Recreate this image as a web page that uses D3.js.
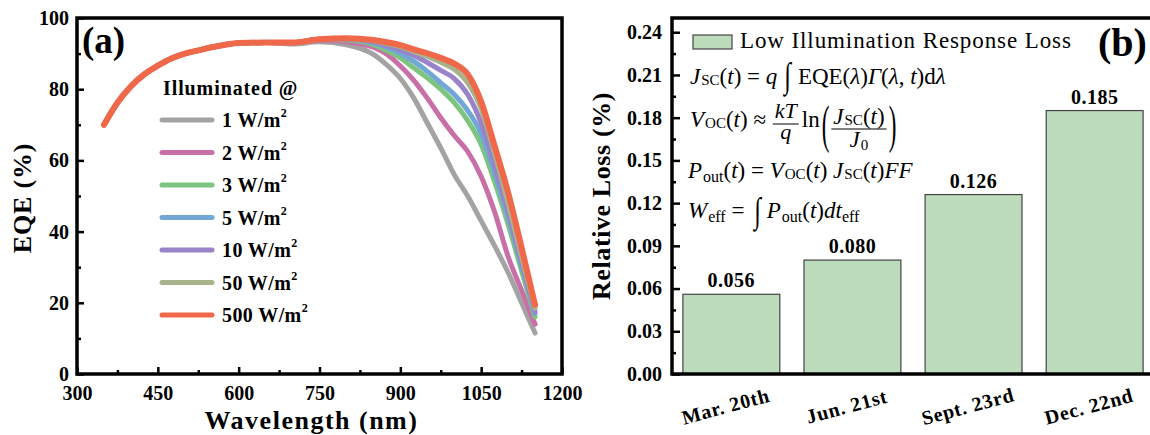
<!DOCTYPE html>
<html>
<head>
<meta charset="utf-8">
<script src="https://cdn.jsdelivr.net/npm/d3@7"></script>
<style>
  body { margin: 0; background: #fff; }
  svg { display: block; }
  text { font-family: "Liberation Serif", "Times New Roman", serif; fill: #000; white-space: pre; }
</style>
</head>
<body>
<svg id="chart" width="1150" height="435"></svg>
<script>
// ---------- Panel (a): EQE spectra under different irradiance ----------
const wavelengths = [350, 375, 400, 425, 450, 475, 500, 525, 550, 575, 600, 650, 700, 750,
                     800, 850, 875, 900, 925, 950, 975, 1000, 1025, 1050, 1075, 1100, 1125, 1150];

const eqe1W   = [70, 76.2, 80.8, 84.2, 86.6, 88.6, 90, 90.9, 91.8, 92.5, 93, 93.1, 92.7, 93.3,
                 92.5, 89.8, 86.8, 83, 77.5, 70.5, 63.5, 56, 50, 43, 36, 28.5, 20, 11.5];
const eqe2W   = [70, 76.2, 80.8, 84.2, 86.6, 88.6, 90, 90.9, 91.8, 92.5, 93, 93.1, 93, 93.8,
                 93.3, 91.8, 89.8, 86.5, 82.5, 77.5, 72, 67, 62.5, 55.5, 45.5, 33, 23.5, 14];
const eqe3W   = [70, 76.2, 80.8, 84.2, 86.6, 88.6, 90, 90.9, 91.8, 92.5, 93, 93.1, 93.1, 94,
                 93.8, 92.5, 90.8, 88.8, 86, 83.2, 80, 76.2, 71.2, 64.5, 54, 42, 29, 16];
const eqe5W   = [70, 76.2, 80.8, 84.2, 86.6, 88.6, 90, 90.9, 91.8, 92.5, 93, 93.1, 93.1, 94,
                 94, 93, 91.7, 90, 87.8, 85, 81.8, 78.5, 74, 67.5, 56.5, 44, 30.5, 17];
const eqe10W  = [70, 76.2, 80.8, 84.2, 86.6, 88.6, 90, 90.9, 91.8, 92.5, 93, 93.1, 93.1, 94,
                 94, 93.3, 92.2, 91, 89.5, 87.5, 85.3, 83, 78.5, 70.5, 58.5, 45.5, 31.5, 17.5];
const eqe50W  = [70, 76.2, 80.8, 84.2, 86.6, 88.6, 90, 90.9, 91.8, 92.5, 93, 93.1, 93.1, 94,
                 94.2, 93.6, 92.8, 92, 90.6, 89.2, 87.6, 85.6, 81.8, 74.5, 62, 48, 33, 18.5];
const eqe500W = [70, 76.2, 80.8, 84.2, 86.6, 88.6, 90, 90.9, 91.8, 92.5, 93, 93.1, 93.1, 94,
                 94.3, 93.8, 93.2, 92.4, 91.2, 90.1, 88.8, 87.2, 84.2, 76.5, 64, 51, 35.5, 19.4];

const irradianceLevels = ["1", "2", "3", "5", "10", "50", "500"];
const eqeSeries = [eqe1W, eqe2W, eqe3W, eqe5W, eqe10W, eqe50W, eqe500W];
const seriesColors = ["#a3a3a3", "#c96fa7", "#7cc47f", "#70a7d6", "#9a84c9", "#a9b38b", "#f0684a"];

const wavelengthTicks = [300, 450, 600, 750, 900, 1050, 1200];
const wavelengthMinor = [375, 525, 675, 825, 975, 1125];
const eqeTicks = [0, 20, 40, 60, 80, 100];
const eqeMinor = [10, 30, 50, 70, 90];

// ---------- Panel (b): relative loss by date ----------
const dates = ["Mar. 20th", "Jun. 21st", "Sept. 23rd", "Dec. 22nd"];
const relativeLoss = [0.056, 0.080, 0.126, 0.185];
const lossTicks = [0, 0.03, 0.06, 0.09, 0.12, 0.15, 0.18, 0.21, 0.24];
const lossMinor = [0.015, 0.045, 0.075, 0.105, 0.135, 0.165, 0.195, 0.225];

const svg = d3.select("#chart");
const barFill = "#bcdcbc";

function styleTicks(g, width) {
  g.select(".domain").remove();
  g.selectAll(".tick line").attr("stroke", "#000").attr("stroke-width", width);
}
function styleLabels(sel) {
  sel.attr("font-size", 20).attr("font-weight", "bold").attr("font-family", "Liberation Serif");
}

// ================= Panel (a) =================
{
  const L = 77, R = 562, T = 18, B = 374;
  const x = d3.scaleLinear().domain([300, 1200]).range([L, R]);
  const y = d3.scaleLinear().domain([0, 100]).range([B, T]);
  const g = svg.append("g");

  // curves
  const line = d3.line().x((d, i) => x(wavelengths[i])).y(d => y(d)).curve(d3.curveMonotoneX);
  eqeSeries.forEach((s, k) => {
    g.append("path").datum(s)
      .attr("d", line)
      .attr("fill", "none")
      .attr("stroke", seriesColors[k])
      .attr("stroke-width", k === 6 ? 6 : 5)
      .attr("stroke-linecap", "round")
      .attr("stroke-linejoin", "round");
  });

  // axes
  g.append("g").attr("transform", `translate(0,${B})`)
    .call(d3.axisBottom(x).tickValues(wavelengthTicks).tickSize(-7).tickPadding(12).tickFormat(d3.format("d")))
    .call(a => styleTicks(a, 2.5))
    .selectAll("text").call(styleLabels);
  g.append("g").attr("transform", `translate(0,${B})`)
    .call(d3.axisBottom(x).tickValues(wavelengthMinor).tickSize(-4).tickFormat(""))
    .call(a => styleTicks(a, 2.5));
  g.append("g").attr("transform", `translate(${L},0)`)
    .call(d3.axisLeft(y).tickValues(eqeTicks).tickSize(-7).tickPadding(8).tickFormat(d3.format("d")))
    .call(a => styleTicks(a, 2.5))
    .selectAll("text").call(styleLabels);
  g.append("g").attr("transform", `translate(${L},0)`)
    .call(d3.axisLeft(y).tickValues(eqeMinor).tickSize(-4).tickFormat(""))
    .call(a => styleTicks(a, 2.5));

  g.append("rect").attr("x", L).attr("y", T).attr("width", R - L).attr("height", B - T)
    .attr("fill", "none").attr("stroke", "#000").attr("stroke-width", 3.5);

  // titles
  g.append("text").attr("x", (L + R) / 2 - 8).attr("y", 429).attr("text-anchor", "middle")
    .attr("font-size", 26).attr("font-weight", "bold").attr("letter-spacing", 1.5).text("Wavelength (nm)");
  g.append("text").attr("transform", `translate(31,${(T + B) / 2 + 2}) rotate(-90)`).attr("text-anchor", "middle")
    .attr("font-size", 26).attr("font-weight", "bold").attr("letter-spacing", 0.8).text("EQE (%)");
  g.append("text").attr("x", 82).attr("y", 53).attr("font-size", 37).attr("font-weight", "bold").text("(a)");

  // legend
  g.append("text").attr("x", 163).attr("y", 95).attr("font-size", 20).attr("font-weight", "bold")
    .attr("letter-spacing", 0.9).text("Illuminated @");
  irradianceLevels.forEach((lv, k) => {
    const ly = 120 + k * 32.5;
    g.append("line").attr("x1", 162).attr("x2", 212).attr("y1", ly).attr("y2", ly)
      .attr("stroke", seriesColors[k]).attr("stroke-width", 5).attr("stroke-linecap", "round");
    const t = g.append("text").attr("x", 222).attr("y", ly + 7).attr("font-size", 20).attr("font-weight", "bold")
      .attr("letter-spacing", 0.4);
    t.append("tspan").text(`${lv} W/m`);
    t.append("tspan").attr("font-size", 12).attr("dy", -10).text("2");
  });
}

// ================= Panel (b) =================
{
  const L = 672, R = 1154, T = 18, B = 374;
  const x = d3.scaleBand().domain(dates).range([L, R]).paddingInner(0.2).paddingOuter(0.09);
  const y = d3.scaleLinear().domain([0, 0.25]).range([B, T]);
  const g = svg.append("g");

  g.selectAll(".bar").data(relativeLoss).join("rect")
    .attr("x", (d, i) => x(dates[i]))
    .attr("y", d => y(d))
    .attr("width", x.bandwidth())
    .attr("height", d => B - y(d))
    .attr("fill", barFill).attr("stroke", "#444").attr("stroke-width", 1.2);

  g.selectAll(".val").data(relativeLoss).join("text")
    .attr("x", (d, i) => x(dates[i]) + x.bandwidth() / 2)
    .attr("y", d => y(d) - 7)
    .attr("text-anchor", "middle").attr("font-size", 20).attr("font-weight", "bold").attr("letter-spacing", 0.5)
    .text(d => d3.format(".3f")(d));

  g.append("g").attr("transform", `translate(${L},0)`)
    .call(d3.axisLeft(y).tickValues(lossTicks).tickSize(-8).tickPadding(10).tickFormat(d3.format(".2f")))
    .call(a => styleTicks(a, 2.5))
    .selectAll("text").call(styleLabels);
  g.append("g").attr("transform", `translate(${L},0)`)
    .call(d3.axisLeft(y).tickValues(lossMinor).tickSize(-4).tickFormat(""))
    .call(a => styleTicks(a, 2.5));

  g.append("rect").attr("x", L).attr("y", T).attr("width", R - L).attr("height", B - T)
    .attr("fill", "none").attr("stroke", "#000").attr("stroke-width", 3.5);

  // category labels
  dates.forEach(d => {
    g.append("text")
      .attr("transform", `translate(${x(d) + x.bandwidth() / 2 - 4},${413}) rotate(-15)`)
      .attr("text-anchor", "middle").attr("font-size", 20).attr("font-weight", "bold")
      .attr("letter-spacing", 0.7).text(d);
  });

  g.append("text").attr("transform", `translate(610,${(T + B) / 2}) rotate(-90)`).attr("text-anchor", "middle")
    .attr("font-size", 26).attr("font-weight", "bold").attr("letter-spacing", 0.6).text("Relative Loss (%)");

  g.append("text").attr("x", 1098).attr("y", 56).attr("font-size", 40).attr("font-weight", "bold").text("(b)");

  // legend
  g.append("rect").attr("x", 693).attr("y", 35).attr("width", 39).attr("height", 14)
    .attr("fill", barFill).attr("stroke", "#444").attr("stroke-width", 1.2);
  g.append("text").attr("x", 740).attr("y", 48).attr("font-size", 23).attr("letter-spacing", 0.9)
    .text("Low Illumination Response Loss");

  // formulas
  const mg = g.append("g");
  const FS = 23;
  function piece(p, cx, y0) {
    const size = p.size || FS;
    const t = mg.append("text")
      .attr("font-size", size)
      .attr("font-style", p.i ? "italic" : "normal");
    if (p.sy) {
      t.attr("transform", `translate(${cx},${y0 + (p.dy || 0)}) scale(${p.sx || 1},${p.sy})`);
    } else {
      t.attr("x", cx).attr("y", y0 + (p.dy || 0));
    }
    t.text(p.t);
    return t.node().getComputedTextLength() * (p.sx || 1) + (p.gap || 0);
  }
  function measure(parts) {
    const tmp = mg.append("g").attr("opacity", 0);
    let w = 0;
    parts.forEach(p => {
      const t = tmp.append("text").attr("font-size", p.size || FS).attr("font-style", p.i ? "italic" : "normal").text(p.t);
      w += t.node().getComputedTextLength() + (p.gap || 0);
    });
    tmp.remove();
    return w;
  }
  // numerator and denominator share one text element, laid out with positioned tspans
  function fraction(f, cx, y0) {
    const wNum = measure(f.num), wDen = measure(f.den);
    const w = Math.max(wNum, wDen) + 4;
    const t = mg.append("text");
    const place = (parts, startX, base) => {
      let px = startX;
      parts.forEach(p => {
        const ts = t.append("tspan").attr("x", px).attr("y", base + (p.dy || 0))
          .attr("font-size", p.size || FS).attr("font-style", p.i ? "italic" : "normal").text(p.t);
        px += ts.node().getComputedTextLength() + (p.gap || 0);
      });
    };
    place(f.num, cx + (w - wNum) / 2, y0 + f.numDy);
    place(f.den, cx + (w - wDen) / 2, y0 + f.denDy);
    mg.append("line").attr("x1", cx).attr("x2", cx + w)
      .attr("y1", y0 + f.barDy).attr("y2", y0 + f.barDy)
      .attr("stroke", "#000").attr("stroke-width", 1);
    return w;
  }
  function run(parts, x0, y0) {
    let cx = x0;
    parts.forEach(p => {
      cx += p.frac ? fraction(p.frac, cx, y0) + (p.gap || 0) : piece(p, cx, y0);
    });
  }

  const Jsc = [{ t: "J", i: true, gap: 1 }, { t: "SC", size: 15, dy: 1 }];
  // J_SC(t) = q ∫ EQE(λ)Γ(λ,t)dλ
  run([...Jsc, { t: "(" }, { t: "t", i: true }, { t: ") = " }, { t: "q", i: true, gap: 7 },
       { t: "∫", size: 22, sx: 1.1, sy: 1.6, dy: 3, gap: 7 },
       { t: "EQE(" }, { t: "λ", i: true }, { t: ")" }, { t: "Γ", i: true }, { t: "(" }, { t: "λ", i: true },
       { t: ", " }, { t: "t", i: true }, { t: ")d" }, { t: "λ", i: true }], 690, 84);

  // V_OC(t) ≈ kT/q ln( J_SC(t) / J_0 )
  run([{ t: "V", i: true, gap: 1 }, { t: "OC", size: 15, dy: 1 }, { t: "(" }, { t: "t", i: true }, { t: ") ≈ ", gap: 1 },
       { frac: { num: [{ t: "kT", i: true, size: 22 }], den: [{ t: "q", i: true, size: 22 }],
                 numDy: -9, denDy: 12, barDy: -3 }, gap: 3 },
       { t: "ln", gap: 2 },
       { t: "(", sx: 1, sy: 2.3, dy: 15, gap: 2 },
       { frac: { num: [...Jsc, { t: "(" }, { t: "t", i: true }, { t: ")" }],
                 den: [{ t: "J", i: true, gap: 1 }, { t: "0", size: 15, dy: 3 }],
                 numDy: -3, denDy: 20, barDy: 2 }, gap: 2 },
       { t: ")", sx: 1, sy: 2.3, dy: 15 }], 690, 127);

  // P_out(t) = V_OC(t) J_SC(t)FF
  run([{ t: "P", i: true, gap: 1 }, { t: "out", size: 16, dy: 4 }, { t: "(" }, { t: "t", i: true }, { t: ") = " },
       { t: "V", i: true, gap: 1 }, { t: "OC", size: 15, dy: 1 }, { t: "(" }, { t: "t", i: true }, { t: ") " },
       ...Jsc, { t: "(" }, { t: "t", i: true }, { t: ")" }, { t: "FF", i: true }], 688, 178);

  // W_eff = ∫ P_out(t) dt_eff
  run([{ t: "W", i: true, gap: 1 }, { t: "eff", size: 16, dy: 4 }, { t: " = ", gap: 4 },
       { t: "∫", size: 22, sx: 1.1, sy: 1.6, dy: 4, gap: 6 },
       { t: "P", i: true, gap: 1 }, { t: "out", size: 16, dy: 4 }, { t: "(" }, { t: "t", i: true }, { t: ")" },
       { t: "dt", i: true }, { t: "eff", size: 16, dy: 4 }], 688, 218);
}
</script>
</body>
</html>
